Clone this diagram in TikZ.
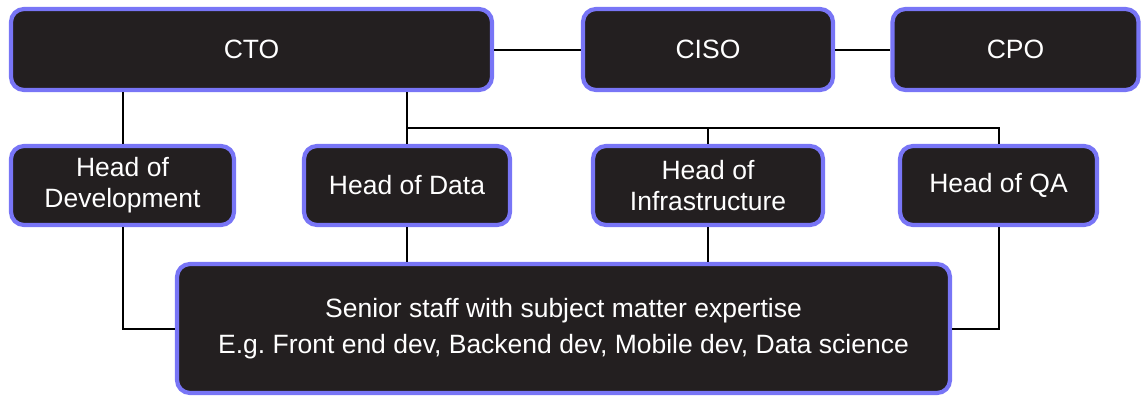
\documentclass[tikz,border=0pt]{standalone}
\usepackage{fontspec}
\setmainfont{Liberation Sans}
\usepackage{tikz}
\frenchspacing

\definecolor{boxfill}{RGB}{35,31,32}
\definecolor{boxline}{RGB}{120,117,246}

\tikzset{
  rolebox/.style={draw=boxline, line width=2.1pt, fill=boxfill, text=white,
    rounded corners=6.5pt, inner sep=0pt, align=center,
    font=\fontsize{13.25}{15.5}\selectfont, minimum height=40.5pt},
  headbox/.style={rolebox, minimum height=39.5pt},
  link/.style={line width=1pt, black}
}

\begin{document}
\begin{tikzpicture}[x=0.5pt, y=-0.5pt]
				\useasboundingbox (0, 0) rectangle (1141, 396);

				\node[rolebox, minimum width=240.5pt] (cto) at (251.5, 49.5) {CTO};
				\node[rolebox, minimum width=125pt] (ciso) at (708, 49.5) {CISO};
				\node[rolebox, minimum width=123pt] (cpo) at (1015.5, 49.5) {CPO};

				\node[headbox, minimum width=111.5pt] (hdev) at (122.5, 185.5) {Head of\\Development};
				\node[headbox, minimum width=103pt] (hdata) at (407, 185.5) {Head of Data};
				\node[headbox, minimum width=115pt] (hinfra) at (708, 185.5) {Head of\\Infrastructure};
				\node[headbox, minimum width=98.5pt] (hqa) at (998.5, 185.5) {Head of QA};

				\node[rolebox, minimum width=386.5pt, minimum height=64.5pt] (senior) at (563.5, 328.5)
					{Senior staff with subject matter expertise\\[2.5pt]E.g. Front end dev, Backend dev, Mobile dev, Data science};

				\coordinate (bus) at (407, 128);

				\draw [link] (cto) to (ciso);
				\draw [link] (ciso) to (cpo);
				\draw [link] (cto.south -| hdev.north) to (hdev.north);
				\draw [link] (cto.south -| hdata.north) to (hdata.north);
				\draw [link] (bus) -| (hqa.north);
				\draw [link] (bus -| hinfra.north) to (hinfra.north);

				\draw [link] (hdev.south) |- (senior.west);
				\draw [link] (hdata.south) to (hdata.south |- senior.north);
				\draw [link] (hinfra.south) to (hinfra.south |- senior.north);
				\draw [link] (hqa.south) |- (senior.east);
		\end{tikzpicture}
\end{document}
